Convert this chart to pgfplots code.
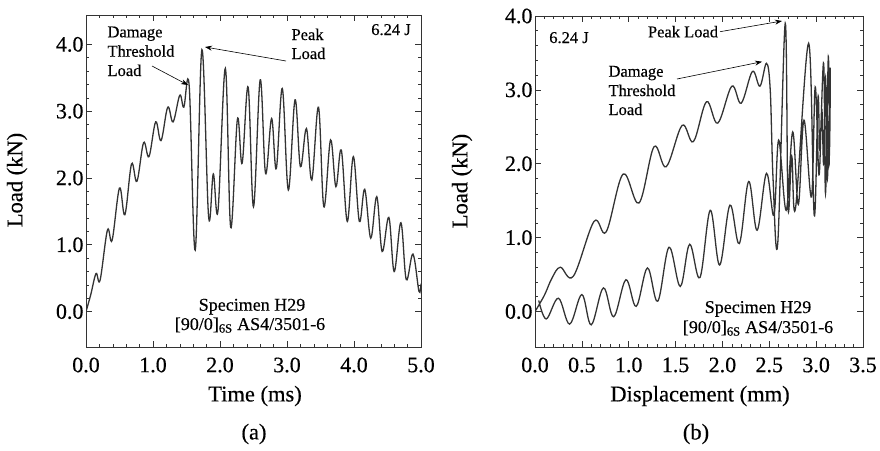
\documentclass[border=0pt]{standalone}
\usepackage{pgfplots}
\pgfplotsset{compat=1.18}
\usetikzlibrary{arrows.meta}
\usepackage{fontspec}
\setmainfont{Liberation Serif}[FakeBold=0.4]

\newcommand\tfont{\fontsize{22}{26}\selectfont}
\newcommand\lfont{\fontsize{22.5}{26}\selectfont}
\newcommand\afont{\fontsize{16.5}{19}\selectfont}
\newcommand\sfont{\fontsize{18}{21}\selectfont}

\pgfplotsset{
  loadaxis/.style={
    scale only axis,
    tick align=inside, tick pos=both,
    major tick length=6pt, minor tick length=3pt,
    minor x tick num=4, minor y tick num=4,
    axis line style={black!80, line width=0.8pt},
    every tick/.style={black!80, line width=0.6pt},
    ticklabel style={font=\tfont},
    xticklabel style={yshift=-7pt},
    yticklabel style={xshift=1pt},
    /pgf/number format/fixed,
    /pgf/number format/fixed zerofill,
    /pgf/number format/precision=1,
    /pgf/number format/assume math mode=true,
    ytick={0,1,2,3,4},
  },
  curve/.style={black!80, line width=1.3pt, smooth, tension=0.6, mark=none},
}

\begin{document}
\begin{tikzpicture}
\useasboundingbox (0,0) rectangle (880pt,-450pt);

% (a) load vs time
\begin{axis}[loadaxis,
    at={(86pt,-347pt)}, anchor=south west,
    width=335pt, height=332pt,
    xmin=0, xmax=5, ymin=-0.53, ymax=4.44,
    xtick={0,1,2,3,4,5},
  ]
  \addplot[curve] coordinates {
    (0,0) (0.07,0.25) (0.15,0.57) (0.21,0.47) (0.32,1.22) (0.39,1.07)
    (0.50,1.85) (0.58,1.45) (0.68,2.21) (0.76,1.95) (0.86,2.53) (0.94,2.32)
    (1.04,2.84) (1.12,2.56) (1.22,3.06) (1.30,2.84) (1.40,3.24) (1.46,3.06)
    (1.54,3.38) (1.63,0.92) (1.73,3.92) (1.83,1.42) (1.90,2.06) (1.97,1.51)
    (2.08,3.64) (2.16,1.26) (2.26,2.88) (2.33,2.22) (2.42,3.36) (2.50,1.57)
    (2.60,3.47) (2.68,2.07) (2.77,2.89) (2.84,2.14) (2.93,3.34) (3.02,1.82)
    (3.12,3.17) (3.20,2.17) (3.29,2.74) (3.37,1.97) (3.47,3.06) (3.55,1.57)
    (3.65,2.57) (3.73,1.87) (3.81,2.42) (3.90,1.35) (3.99,2.32) (4.08,1.35)
    (4.16,1.83) (4.25,1.10) (4.34,1.72) (4.42,0.90) (4.52,1.41) (4.60,0.60)
    (4.70,1.33) (4.78,0.48) (4.88,0.86) (4.97,0.30) (5.00,0.42)
  };
\end{axis}

% (b) load vs displacement
\begin{axis}[loadaxis,
    at={(535pt,-347pt)}, anchor=south west,
    width=328pt, height=331pt,
    xmin=0, xmax=3.5, ymin=-0.48, ymax=4.0,
    xtick={0,0.5,...,3.5},
  ]
  \addplot[curve] coordinates {
    (0.00,0.00) (0.10,0.22) (0.18,0.45) (0.27,0.60) (0.41,0.48)
    (0.63,1.22) (0.76,1.08) (0.94,1.86) (1.11,1.47) (1.27,2.23) (1.40,1.96)
    (1.57,2.52) (1.69,2.30) (1.83,2.84) (1.95,2.55) (2.10,3.05) (2.20,2.82)
    (2.32,3.25) (2.40,3.05) (2.47,3.36) (2.51,3.00) (2.54,1.80) (2.59,0.92)
    (2.67,3.90) (2.70,1.40) (2.74,2.10) (2.78,1.40) (2.92,3.63) (2.98,1.30)
    (3.02,2.90) (3.04,2.20) (3.08,3.36) (3.10,1.60) (3.13,3.45) (3.14,2.00)
    (3.11,2.90) (3.14,2.10) (3.15,3.30) (3.12,1.80) (3.10,3.17) (3.08,2.00)
    (3.06,2.74) (3.03,1.85) (2.99,3.04) (2.95,1.55) (2.87,2.59) (2.81,1.45)
    (2.75,2.43) (2.68,1.37) (2.60,2.32) (2.55,1.30) (2.47,1.87) (2.37,1.10)
    (2.28,1.76) (2.18,0.92) (2.08,1.44) (1.97,0.63) (1.87,1.37) (1.76,0.46)
    (1.65,0.91) (1.55,0.34) (1.43,0.87) (1.31,0.14) (1.20,0.59) (1.08,0.07)
    (0.97,0.43) (0.84,-0.07) (0.73,0.32) (0.60,-0.18) (0.50,0.23) (0.37,-0.17)
    (0.25,0.18) (0.12,-0.10) (0.04,0.15)
  };
\end{axis}

% labels and notes, panel (a)
\node[font=\lfont] at (255pt,-396pt) {Time (ms)};
\node[font=\lfont, rotate=90] at (17pt,-180pt) {Load (kN)};
\node[font=\lfont] at (254pt,-434pt) {(a)};
\node[font=\afont, anchor=base west] at (104pt,-37.3pt) {Damage};
\node[font=\afont, anchor=base west] at (104pt,-56.7pt) {Threshold};
\node[font=\afont, anchor=base west] at (104pt,-76pt) {Load};
\node[font=\afont, anchor=base west] at (288pt,-40pt) {Peak};
\node[font=\afont, anchor=base west] at (288pt,-59pt) {Load};
\node[font=\afont, anchor=base] at (391pt,-35pt) {6.24 J};
\node[font=\sfont, anchor=base] at (252pt,-310.7pt) {Specimen H29};
\node[font=\sfont, anchor=base] at (250pt,-330pt) {[90/0]\textsubscript{6S} AS4/3501-6};
\draw[-{Stealth[length=7pt,width=5pt]}, line width=0.6pt] (152pt,-66pt) -- (188pt,-85pt);
\draw[-{Stealth[length=7pt,width=5pt]}, line width=0.6pt] (286pt,-61pt) -- (205pt,-47pt);

% labels and notes, panel (b)
\node[font=\lfont] at (700pt,-396pt) {Displacement (mm)};
\node[font=\lfont, rotate=90] at (462pt,-181pt) {Load (kN)};
\node[font=\lfont] at (696pt,-434pt) {(b)};
\node[font=\afont, anchor=base] at (569pt,-43pt) {6.24 J};
\node[font=\afont, anchor=base] at (683pt,-37.3pt) {Peak Load};
\node[font=\afont, anchor=base west] at (605pt,-76.7pt) {Damage};
\node[font=\afont, anchor=base west] at (605pt,-96pt) {Threshold};
\node[font=\afont, anchor=base west] at (605pt,-115pt) {Load};
\node[font=\sfont, anchor=base] at (758pt,-313pt) {Specimen H29};
\node[font=\sfont, anchor=base] at (758pt,-333pt) {[90/0]\textsubscript{6S} AS4/3501-6};
\draw[-{Stealth[length=7pt,width=5pt]}, line width=0.6pt] (677pt,-79pt) -- (762pt,-61.7pt);
\draw[-{Stealth[length=7pt,width=5pt]}, line width=0.6pt] (720pt,-31.7pt) -- (782pt,-21pt);
\end{tikzpicture}
\end{document}
